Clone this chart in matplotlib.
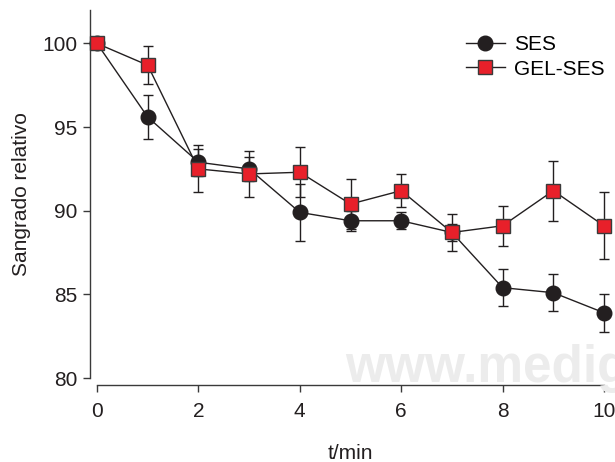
import matplotlib
matplotlib.use('Agg')
import matplotlib.pyplot as plt

plt.rcParams['font.family'] = ['Liberation Sans', 'DejaVu Sans']

# Values
t = [0, 1, 2, 3, 4, 5, 6, 7, 8, 9, 10]
ses = [100.0, 95.6, 92.9, 92.5, 89.9, 89.4, 89.4, 88.7, 85.4, 85.1, 83.9]
ses_err = [0.0, 1.3, 0.8, 0.7, 1.7, 0.6, 0.5, 0.5, 1.1, 1.1, 1.15]
gel = [100.0, 98.7, 92.5, 92.2, 92.3, 90.4, 91.2, 88.7, 89.1, 91.2, 89.1]
gel_err = [0.0, 1.15, 1.4, 1.4, 1.5, 1.5, 1.0, 1.1, 1.2, 1.8, 2.0]

fig = plt.figure(figsize=(6.15, 4.62), dpi=100)
ax = fig.add_axes([97 / 615, 1 - 378 / 462, (604 - 97) / 615, (378 - 10) / 462])

# faint watermark, runs off the right edge like in the source
fig.text(345 / 615, 1 - 382 / 462, 'www.medigraphic.com', fontsize=37,
         fontweight='bold', color='#ececec', zorder=0)

ax.errorbar(t, ses, yerr=ses_err, color='#231f20', lw=1.0, marker='o',
            markersize=10.5, mfc='#231f20', mec='#231f20', capsize=3.5,
            elinewidth=1.0, capthick=1.0, clip_on=False, label='SES', zorder=3)
ax.errorbar(t, gel, yerr=gel_err, color='#231f20', lw=1.0, marker='s',
            markersize=9.5, mfc='#e8202a', mec='#3a3a3a', mew=1.0, capsize=3.5,
            elinewidth=1.0, capthick=1.0, clip_on=False, label='GEL-SES', zorder=4)

ax.set_xlim(0, 10)
ax.set_ylim(80, 102)
ax.set_xticks([0, 2, 4, 6, 8, 10])
ax.set_yticks([80, 85, 90, 95, 100])
ax.patch.set_alpha(0)

for side in ['top', 'right']:
    ax.spines[side].set_visible(False)
ax.spines['left'].set_position(('outward', 5))
ax.spines['bottom'].set_position(('outward', 5))
ax.spines['left'].set_bounds(80, 102)
for side in ['left', 'bottom']:
    ax.spines[side].set_color('#3a3a3a')
    ax.spines[side].set_linewidth(1.0)

ax.tick_params(labelsize=15, length=5, width=1.0, color='#3a3a3a',
               labelcolor='#231f20', pad=4)
ax.tick_params(axis='x', pad=7)
ax.set_xlabel('t/min', fontsize=15, color='#231f20', labelpad=17)
ax.set_ylabel('Sangrado relativo', fontsize=15, color='#231f20', labelpad=8)

handles, labels = ax.get_legend_handles_labels()
handles = [h[0] for h in handles]
ax.legend(handles, labels, loc='upper right', bbox_to_anchor=(1.025, 0.965),
          frameon=False, fontsize=15, handlelength=1.9, handletextpad=0.4,
          labelspacing=0.25, borderaxespad=0.2)

fig.savefig('out.png', dpi=100)
